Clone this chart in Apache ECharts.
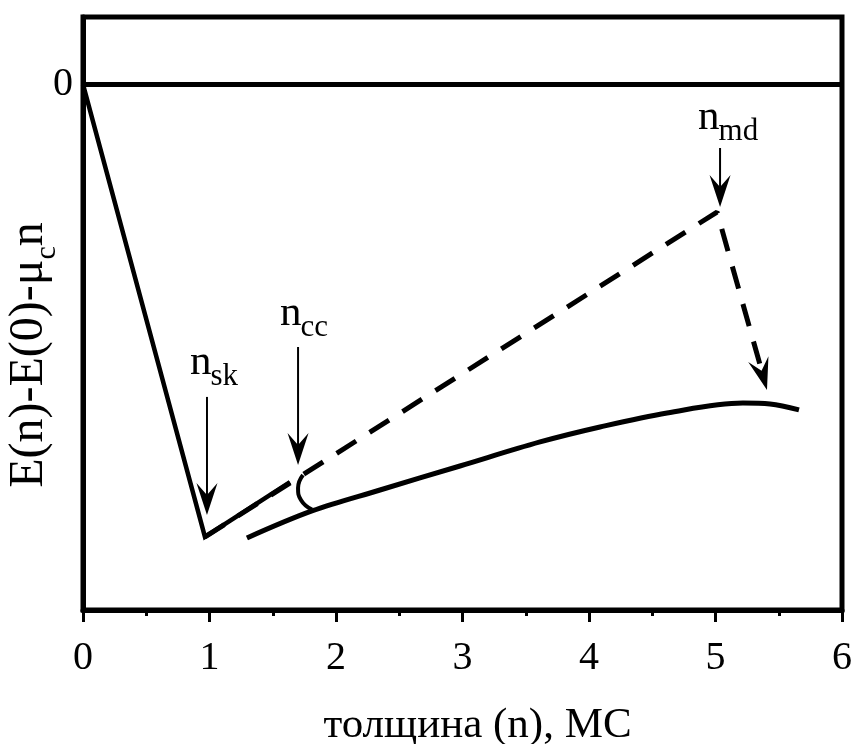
<!DOCTYPE html>
<html><head><meta charset="utf-8">
<script src="https://cdn.jsdelivr.net/npm/echarts@6/dist/echarts.min.js"></script>
<style>html,body{margin:0;padding:0;background:#fff}#c{width:857px;height:744px}</style>
</head><body><div id="c"></div>
<script>
// ---- data (axis units: x = thickness n in ML, y = arbitrary energy units) ----
const xTicks = [0, 1, 2, 3, 4, 5, 6];
const yLabelValues = [0];
const zeroLine = [[0, 0], [6, 0]];
const solidMain = [[0, 0], [0.964, -6.715], [1.636, -5.901]];
const dashedPath = [[0.964, -6.715], [5.012, -1.894], [5.365, -4.248]];
const hookCurve = [[1.739, -5.796], [1.700, -5.989], [1.723, -6.167], [1.810, -6.31]];
const lowerCurve = [[1.296, -6.731], [1.810, -6.330], [2.348, -6.019], [2.980, -5.663],
  [3.613, -5.306], [4.087, -5.084], [4.617, -4.876], [5.217, -4.728], [5.431, -4.742], [5.660, -4.831]];
const arrowFrom = [[0.980, -4.638], [1.700, -3.897], [5.036, -0.944], [5.012, -1.894]];
const arrowTo = [[0.980, -6.390], [1.700, -5.648], [5.036, -1.819], [5.407, -4.535]];
const arrowShaft = [true, true, true, false];
const labelMain = ['n', 'n', 'n'];
const labelSub = ['sk', 'cc', 'md'];
const labelAnchor = [[0.846, -4.342], [1.557, -3.615], [4.862, -0.706]];
const xTitle = 'толщина (n), МС';

const FF = '"Liberation Serif", "DejaVu Serif", serif';
const measureCtx = document.createElement('canvas').getContext('2d');
function tw(t, fs) { measureCtx.font = fs + 'px ' + FF; return measureCtx.measureText(t).width; }

const chart = echarts.init(document.getElementById('c'), null, {renderer: 'canvas'});
const N_FS = 43, SUB_FS = 31, SUB_DROP = 10;
const option = {
  backgroundColor: '#fff',
  animation: false,
  grid: {left: 83, right: 15, top: 17, bottom: 134, show: true, borderColor: '#000', borderWidth: 5,
    backgroundColor: 'transparent', containLabel: false, outerBoundsMode: 'none'},
  xAxis: {
    type: 'value', min: xTicks[0], max: xTicks[xTicks.length - 1], interval: 1,
    axisLine: {onZero: false, lineStyle: {color: '#000', width: 5}},
    axisTick: {length: 12, lineStyle: {color: '#000', width: 3}},
    minorTick: {show: true, splitNumber: 2, length: 6, lineStyle: {color: '#000', width: 3}},
    splitLine: {show: false},
    axisLabel: {fontFamily: FF, fontSize: 40, color: '#000', margin: 28},
    name: xTitle, nameLocation: 'middle', nameGap: 94,
    nameTextStyle: {fontFamily: FF, fontSize: 43, color: '#000', padding: [0, 0, 0, 30]}
  },
  yAxis: {
    type: 'value', min: -7.8, max: 1,
    axisLine: {show: true, onZero: false, lineStyle: {color: '#000', width: 5}},
    axisTick: {show: false},
    splitLine: {show: false},
    axisLabel: {customValues: yLabelValues, fontFamily: FF, fontSize: 40, color: '#000', margin: 10, padding: [12, 0, 0, 0]}
  },
  graphic: [{
    type: 'text', x: 29, y: 355, rotation: Math.PI / 2,
    style: {
      text: '{a|E(n)-E(0)-μ}{b|c}{a|n}', align: 'center', verticalAlign: 'middle', fill: '#000',
      rich: {a: {fontFamily: FF, fontSize: 48, fill: '#000'}, b: {fontFamily: FF, fontSize: 30, fill: '#000', padding: [36, 0, 0, 0]}}
    }
  }],
  series: [
    {type: 'line', data: zeroLine, symbol: 'none', lineStyle: {color: '#000', width: 5}, clip: false},
    {type: 'line', data: solidMain, symbol: 'none', lineStyle: {color: '#000', width: 4.5, join: 'miter'}},
    {type: 'line', data: dashedPath, symbol: 'none', lineStyle: {color: '#000', width: 5, type: [23, 16], cap: 'butt'}},
    {type: 'line', data: hookCurve, symbol: 'none', smooth: 0.5, lineStyle: {color: '#000', width: 4}},
    {type: 'line', data: lowerCurve, symbol: 'none', smooth: 0.35, lineStyle: {color: '#000', width: 5}},
    {
      type: 'custom', data: arrowTo.map((p, i) => [p[0], p[1]]),
      renderItem: function (params, api) {
        const i = params.dataIndex;
        const p1 = api.coord(arrowFrom[i]), p2 = api.coord(arrowTo[i]);
        let ux = p2[0] - p1[0], uy = p2[1] - p1[1];
        const len = Math.hypot(ux, uy); ux /= len; uy /= len;
        const vx = -uy, vy = ux;
        const L = 32, W = 21, Nn = 20;
        const children = [];
        if (arrowShaft[i]) {
          children.push({type: 'line', shape: {x1: p1[0], y1: p1[1], x2: p2[0] - Nn * ux, y2: p2[1] - Nn * uy},
            style: {stroke: '#000', lineWidth: 2}});
        }
        children.push({type: 'polygon', shape: {points: [
          [p2[0], p2[1]],
          [p2[0] - L * ux + W / 2 * vx, p2[1] - L * uy + W / 2 * vy],
          [p2[0] - Nn * ux, p2[1] - Nn * uy],
          [p2[0] - L * ux - W / 2 * vx, p2[1] - L * uy - W / 2 * vy]
        ]}, style: {fill: '#000'}});
        return {type: 'group', children: children};
      }
    },
    {
      type: 'custom', data: labelAnchor.map(p => [p[0], p[1]]),
      renderItem: function (params, api) {
        const i = params.dataIndex;
        const p = api.coord(labelAnchor[i]);
        const nW = tw(labelMain[i], N_FS);
        return {type: 'group', children: [
          {type: 'text', style: {text: labelMain[i], x: p[0], y: p[1] - 0.3375 * N_FS, fontFamily: FF, fontSize: N_FS, fill: '#000', align: 'left', verticalAlign: 'middle'}},
          {type: 'text', style: {text: labelSub[i], x: p[0] + nW - 1, y: p[1] + SUB_DROP - 0.3375 * SUB_FS, fontFamily: FF, fontSize: SUB_FS, fill: '#000', align: 'left', verticalAlign: 'middle'}}
        ]};
      }
    }
  ]
};
chart.setOption(option);
</script></body></html>
